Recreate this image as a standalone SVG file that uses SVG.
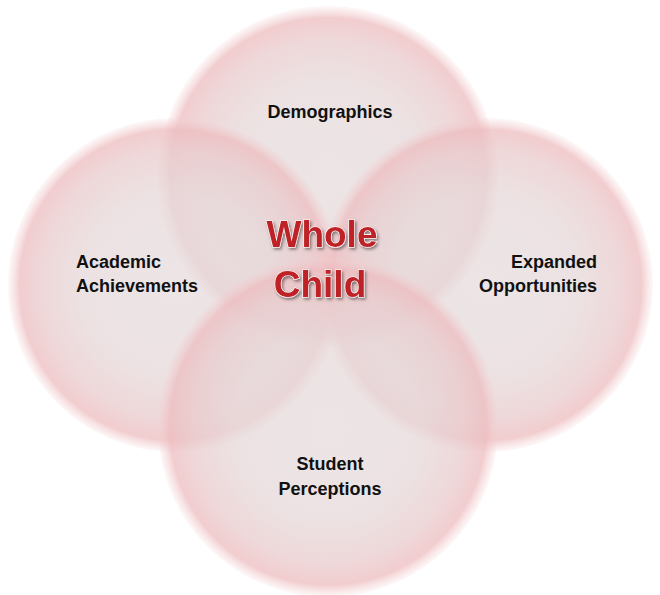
<svg xmlns="http://www.w3.org/2000/svg" width="660" height="595" viewBox="0 0 660 595">
<defs>
<radialGradient id="g" cx="50%" cy="50%" r="50%">
<stop offset="0" stop-color="#e6dcdd"/>
<stop offset="0.55" stop-color="#e6d8d9"/>
<stop offset="0.8" stop-color="#e9cbcd"/>
<stop offset="0.93" stop-color="#edbcbf"/>
<stop offset="1" stop-color="#f3cfd1" stop-opacity="0.2"/>
</radialGradient>
<filter id="sh" x="-20%" y="-20%" width="140%" height="160%">
<feDropShadow dx="1.5" dy="2" stdDeviation="1.5" flood-color="#000" flood-opacity="0.45"/>
</filter>
<style>
.c{fill:url(#g);opacity:0.75}
.t{font-family:"Liberation Sans",Arial,sans-serif;font-weight:bold;font-size:18px;fill:#111}
.w{font-family:"Liberation Sans",Arial,sans-serif;font-weight:bold;font-size:37px;fill:#bf2228;stroke:#fff;stroke-width:1.2;paint-order:stroke;text-anchor:middle}
</style>
</defs>
<rect width="660" height="595" fill="#fff"/>
<g id="top"><circle class="c" cx="328" cy="176" r="170"/></g>
<g id="left"><circle class="c" cx="175" cy="285" r="167"/></g>
<g id="right"><circle class="c" cx="486" cy="285" r="167"/></g>
<g id="bottom"><circle class="c" cx="328" cy="427" r="170"/></g>
<g id="connectors"></g>
<g id="labels">
<text class="t" x="330" y="118" text-anchor="middle">Demographics</text>
<text class="t" x="76" y="268">Academic</text>
<text class="t" x="76" y="292">Achievements</text>
<text class="t" x="597" y="268" text-anchor="end">Expanded</text>
<text class="t" x="597" y="292" text-anchor="end">Opportunities</text>
<text class="t" x="330" y="470" text-anchor="middle">Student</text>
<text class="t" x="330" y="495" text-anchor="middle">Perceptions</text>
</g>
<g id="center" filter="url(#sh)">
<text class="w" x="322" y="247">Whole</text>
<text class="w" x="320" y="297">Child</text>
</g>
</svg>
